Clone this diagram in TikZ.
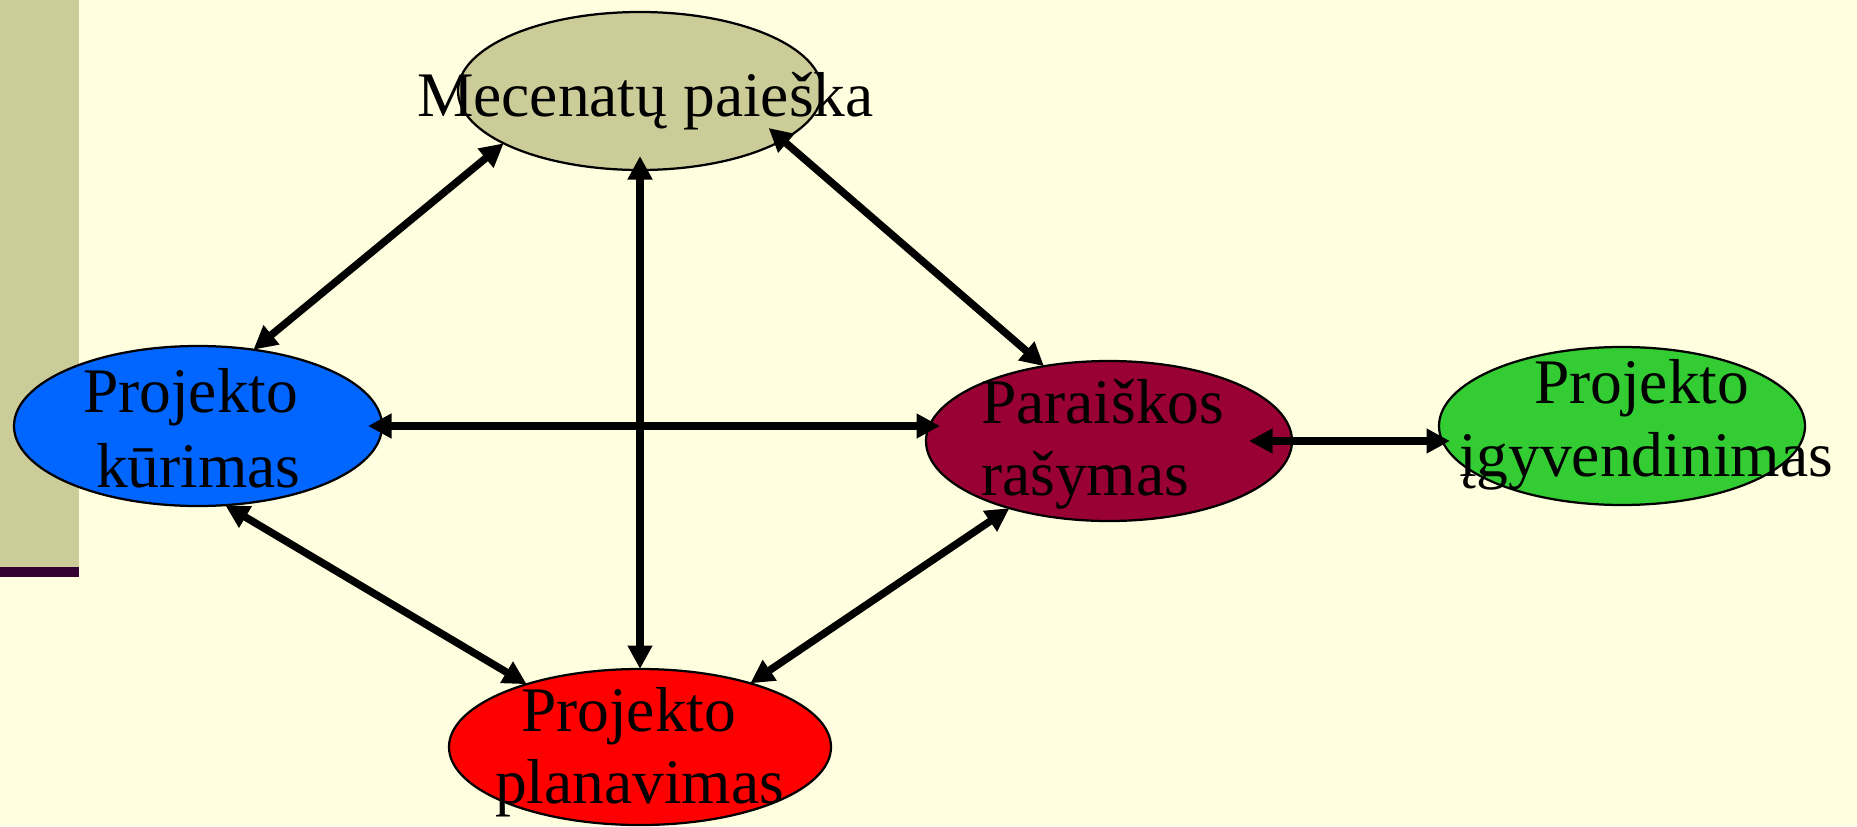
\documentclass[tikz,border=0pt]{standalone}
\usepackage{fontspec}
\setmainfont{Liberation Serif}
\usetikzlibrary{arrows.meta,shapes.geometric}
\definecolor{bgc}{HTML}{FFFFE0}
\definecolor{barc}{HTML}{CCCC99}
\definecolor{linec}{HTML}{330033}
\definecolor{mecc}{HTML}{CCCC99}
\definecolor{kurc}{HTML}{0066FF}
\definecolor{parc}{HTML}{990033}
\definecolor{igyc}{HTML}{33CC33}
\definecolor{plac}{HTML}{FF0000}
\begin{document}
\begin{tikzpicture}[x=0.4pt,y=-0.4pt,
  oval/.style={ellipse,draw=black,line width=0.9pt,inner sep=0pt,outer sep=0pt},
  lbl/.style={anchor=base west,inner sep=0pt,outer sep=0pt,font=\fontsize{25.4}{30}\selectfont},
  arr/.style={line width=3pt,{Triangle[length=9.4pt,width=9.4pt]}-{Triangle[length=9.4pt,width=9.4pt]}}]
\fill[bgc] (0,0) rectangle (1857,826);
\useasboundingbox (0,0) rectangle (1857,826);
\fill[barc] (0,0) rectangle (79,567);
\fill[linec] (0,567) rectangle (79,577);
% ellipses
\node[oval,fill=mecc,minimum width=145.6pt,minimum height=63.2pt] (mec) at (640,91) {};
\node[oval,fill=kurc,minimum width=147.2pt,minimum height=64pt] (kur) at (198,426) {};
\node[oval,fill=parc,minimum width=146.4pt,minimum height=64pt] (par) at (1109,441) {};
\node[oval,fill=igyc,minimum width=146.4pt,minimum height=63.2pt] (igy) at (1622,426) {};
\node[oval,fill=plac,minimum width=152.8pt,minimum height=62.4pt] (pla) at (640,747) {};
% labels
\node[lbl] (t1) at (417,116) {Mecenatų paieška};
\node[lbl] (t2a) at (83,412) {Projekto};
\node[lbl] (t2b) at (96,487) {kūrimas};
\node[lbl] (t3a) at (981,423) {Paraiškos};
\node[lbl] (t3b) at (981,495) {rašymas};
\node[lbl] (t4a) at (1534,403) {Projekto};
\node[lbl] (t4b) at (1459,476) {įgyvendinimas};
\node[lbl] (t5a) at (521,731) {Projekto};
\node[lbl] (t5b) at (495,803) {planavimas};
% connectors
\draw[arr] (mec.201) -- (kur.54);
\draw[arr,shorten <=-5.6pt] (mec.south) -- (pla.north);
\draw[arr,shorten <=-7.4pt] (mec.341) -- (par.131);
\draw[arr,shorten <=-5.6pt,shorten >=-5.6pt] (kur.east) -- (kur.east -| par.west);
\draw[arr,shorten <=-17.2pt,shorten >=-4.4pt] (par.east) -- (par.east -| igy.west);
\draw[arr] (kur.289) -- (pla.151);
\draw[arr] (par.214) -- (pla.30);
\end{tikzpicture}
\end{document}
